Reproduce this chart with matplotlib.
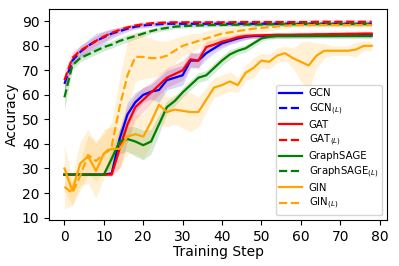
import numpy as np
import matplotlib
matplotlib.use('Agg')
import matplotlib.pyplot as plt

steps = list(range(0, 80, 2))

gcn = [27.5, 27.5, 27.5, 27.5, 27.5, 27.5, 28, 42, 52, 57, 60, 61.3, 62, 66, 67, 68, 74, 74, 77, 79,
       81, 82, 83, 83.7, 84, 84, 84, 84.2, 84.2, 84.3, 84.3, 84.3, 84.4, 84.4, 84.4, 84.5, 84.5, 84.5, 84.5, 84.5]
gcn_std = [0.4, 0.4, 0.4, 0.4, 0.4, 0.4, 1, 4, 5, 4, 3, 3, 5, 4, 4, 4, 3, 3, 2.5, 2,
           2, 1.5, 1.5, 1.2, 1, 1, 1, 1, 1, 1, 1, 1, 1, 1, 1, 1, 1, 1, 1, 1]
gcn_l = [64.5, 74, 77.5, 80, 82, 83.5, 85, 86, 87, 87.8, 88.3, 88.6, 88.8, 89, 89, 89, 89, 89, 89, 89,
         89, 89, 89, 89, 89, 89, 89, 89, 89, 89, 89, 89, 89, 89, 89, 89, 89, 89, 89, 89]
gcn_l_std = [3, 2, 2.5, 2.5, 3, 2.5, 2, 1.5, 1.2, 1, 1, 1, 0.8, 0.8, 0.8, 0.8, 0.8, 0.8, 0.8, 0.8,
             0.8, 0.8, 0.8, 0.8, 0.8, 0.8, 0.8, 0.8, 0.8, 0.8, 0.8, 0.8, 0.8, 0.8, 0.8, 0.8, 0.8, 0.8, 0.8, 0.8]

gat = [27.5, 27.5, 27.5, 27.5, 27.5, 27.5, 27.5, 38, 48, 55, 58, 61, 64, 67, 68.5, 70, 74.5, 74, 79.5, 80.5,
       81.7, 82.5, 83.5, 84, 84.2, 84.3, 84.4, 84.5, 84.5, 84.5, 84.6, 84.6, 84.7, 84.7, 84.8, 84.8, 84.9, 84.9, 85, 85]
gat_std = [0.4, 0.4, 0.4, 0.4, 0.4, 0.4, 0.5, 8, 7, 5, 5, 4, 4, 4, 4, 4, 3, 3, 2.5, 2,
           2, 1.5, 1.5, 1.2, 1, 1, 1, 1, 1, 1, 1, 1, 1, 1, 1, 1, 1, 1, 1, 1]
gat_l = [66, 75, 78, 80, 82, 83.8, 85.3, 86.5, 87.5, 88.3, 88.8, 89.2, 89.4, 89.5, 89.6, 89.6, 89.6, 89.6, 89.6, 89.6,
         89.6, 89.6, 89.7, 89.7, 89.7, 89.7, 89.7, 89.7, 89.7, 89.7, 89.7, 89.7, 89.8, 89.8, 89.8, 89.8, 89.8, 89.8, 89.8, 89.8]
gat_l_std = [4, 2.5, 2, 2, 2, 2, 1.5, 1.2, 1, 1, 1, 0.8, 0.8, 0.8, 0.8, 0.8, 0.8, 0.8, 0.8, 0.8,
             0.8, 0.8, 0.8, 0.8, 0.8, 0.8, 0.8, 0.8, 0.8, 0.8, 0.8, 0.8, 0.8, 0.8, 0.8, 0.8, 0.8, 0.8, 0.8, 0.8]

sage = [27.5, 27.5, 27.5, 27.5, 27.5, 27.5, 34, 41, 42, 41, 39.5, 41, 48, 55, 57.5, 61, 64, 67, 68, 71,
        74, 76.5, 78, 79, 81, 83, 83.7, 84, 84, 84, 84, 84, 84, 84, 84, 84, 84, 84, 84, 84]
sage_std = [0.3, 0.3, 0.3, 0.3, 0.3, 0.3, 4, 5, 5, 6, 6, 5, 4, 2.5, 2, 2, 2, 2, 2, 2,
            2, 2, 1.5, 1.5, 1.5, 1.2, 1, 1, 1, 1, 1, 1, 1, 1, 1, 1, 1, 1, 1, 1]
sage_l = [59, 72, 75, 76.5, 78, 79.5, 80.5, 82, 83, 84, 85, 86, 86.8, 87.3, 87.8, 88, 88.2, 88.3, 88.4, 88.5,
          88.5, 88.6, 88.6, 88.7, 88.7, 88.7, 88.8, 88.8, 88.8, 88.8, 88.9, 88.9, 88.9, 88.9, 88.9, 88.9, 88.9, 88.9, 88.9, 88.9]
sage_l_std = [5, 2, 1.5, 1.5, 1.5, 1.5, 1.5, 1.5, 1.5, 1.2, 1.2, 1, 1, 1, 0.8, 0.8, 0.8, 0.8, 0.8, 0.8,
              0.8, 0.8, 0.8, 0.8, 0.8, 0.8, 0.8, 0.8, 0.8, 0.8, 0.8, 0.8, 0.8, 0.8, 0.8, 0.8, 0.8, 0.8, 0.8, 0.8]

gin = [30, 21, 32, 35, 29, 36, 38, 38, 43, 44, 43, 49, 56, 53, 54, 53.5, 53, 53, 58, 63,
       64, 65.5, 64, 69, 71, 74, 73.5, 76, 77, 75, 73.5, 72, 76, 78, 78, 78, 78, 78.5, 80, 80]
gin_std = [9, 6, 9, 11, 11, 10, 9, 8, 7, 8, 9, 9, 8, 6, 6, 7, 8, 6, 5, 4,
           4, 4, 3, 3, 4, 3, 3, 3, 3, 4, 8, 10, 5, 3, 2, 2, 2, 3, 2, 2]
gin_l = [22.5, 20, 27, 35.5, 33, 36, 39, 55, 68, 75.5, 75.5, 75, 75, 76, 78, 80, 81, 82, 83, 84,
         85, 85.5, 86, 86.5, 87, 87.3, 87.6, 87.9, 88.2, 88.4, 88.5, 88.5, 88.5, 88.5, 88.5, 88.5, 88.5, 88.5, 88.5, 88.5]
gin_l_std = [9, 5, 6, 8, 8, 8, 10, 12, 14, 10, 9, 8, 7, 6, 5, 4, 4, 3, 3, 3,
             2.5, 2, 2, 2, 1.5, 1.5, 1.5, 1.2, 1.2, 1, 1, 1, 1, 1, 1, 1, 1, 1, 1, 1]

series = [
    ('GCN', gcn, gcn_std, 'blue', '-'),
    (r'GCN$_{(L)}$', gcn_l, gcn_l_std, 'blue', '--'),
    ('GAT', gat, gat_std, 'red', '-'),
    (r'GAT$_{(L)}$', gat_l, gat_l_std, 'red', '--'),
    ('GraphSAGE', sage, sage_std, 'green', '-'),
    (r'GraphSAGE$_{(L)}$', sage_l, sage_l_std, 'green', '--'),
    ('GIN', gin, gin_std, 'orange', '-'),
    (r'GIN$_{(L)}$', gin_l, gin_l_std, 'orange', '--'),
]

fig = plt.figure(figsize=(3.99, 2.66), dpi=100)
ax = fig.add_axes([0.123, 0.173, 0.847, 0.793])

x = np.array(steps)
for label, mean, std, color, ls in series:
    mean = np.array(mean)
    std = np.array(std)
    ax.fill_between(x, mean - std, mean + std, color=color, alpha=0.16, linewidth=0)
    ax.plot(x, mean, color=color, linestyle=ls, linewidth=1.6, label=label)

ax.set_ylim(9, 95)
ax.set_yticks([10, 20, 30, 40, 50, 60, 70, 80, 90])
ax.set_xticks([0, 10, 20, 30, 40, 50, 60, 70, 80])
ax.tick_params(labelsize=10)
ax.set_xlabel('Training Step', fontsize=10, labelpad=1)
ax.set_ylabel('Accuracy', fontsize=10, labelpad=2)
ax.legend(loc='lower right', fontsize=7.3, labelspacing=0.3, handlelength=2.2,
          borderpad=0.35, handletextpad=0.7)

fig.savefig('out.png', dpi=100)
